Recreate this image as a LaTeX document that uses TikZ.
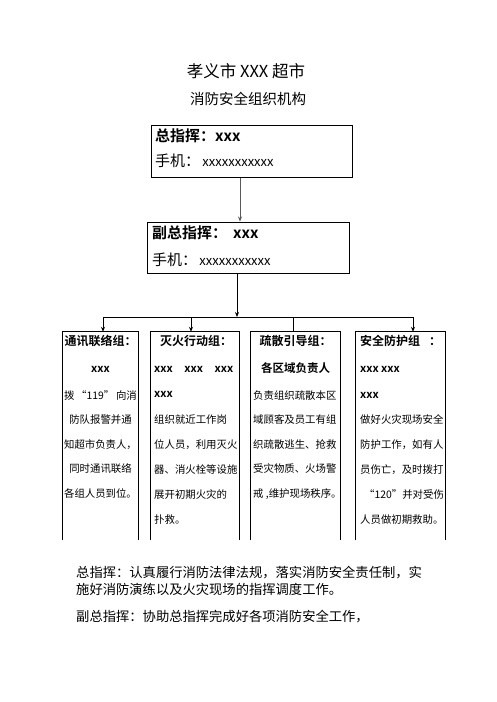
\documentclass[tikz,border=0pt]{standalone}
\usepackage{fontspec}
\setmainfont{Noto Sans CJK SC}[BoldFont={Noto Sans CJK SC Bold}]
\usetikzlibrary{arrows.meta}
\begin{document}
\begin{tikzpicture}[x=1pt,y=-1pt,
  ln/.style={inner sep=0pt, text height=.88em, text depth=.12em},
  bx/.style={draw=black, line width=1pt, inner sep=0pt},
  grp/.style={inner sep=0pt},
  side/.style={draw=black, line width=1pt},
  conn/.style={draw=black, line width=0.8pt},
  tip/.style={-{Stealth[length=5pt,width=4pt]}},
  fs/.style={font=\fontsize{#1}{#1}\selectfont}]
\fill[white] (0,0) rectangle (496,702);
\useasboundingbox (0,0) rectangle (496,702);

% titles
\node[ln,fs=16.5] (title) at (246,74) {孝义市 XXX 超市};
\node[ln,fs=14.5] (sub) at (248,101) {消防安全组织机构};

% top boxes
\node[bx, minimum width=201pt, minimum height=52pt] (b1) at (251.5,151) {};
\node[ln,fs=15,anchor=west] (b1a) at (155,138) {\textbf{总指挥：xxx}};
\node[ln,anchor=west] (b1b) at (155,163) {{\fontsize{15}{15}\selectfont 手机：}\ {\fontsize{13}{13}\selectfont xxxxxxxxxxx}};

\node[bx, minimum width=202pt, minimum height=51pt] (b2) at (248,247.5) {};
\node[ln,fs=15,anchor=west] (b2a) at (152,235) {\textbf{副总指挥：\hspace{6pt}xxx}};
\node[ln,anchor=west] (b2b) at (152,262) {{\fontsize{15}{15}\selectfont 手机：}\ {\fontsize{13}{13}\selectfont xxxxxxxxxxx}};

% group boxes (open at the bottom)
\node[grp, minimum width=75pt, minimum height=208pt] (gA) at (100.5,436) {};
\node[grp, minimum width=88pt, minimum height=208pt] (gB) at (195,436) {};
\node[grp, minimum width=89pt, minimum height=208pt] (gC) at (295.5,436) {};
\node[grp, minimum width=89pt, minimum height=208pt] (gD) at (400.5,436) {};
\foreach \g in {gA,gB,gC,gD}{
  \draw[side] (\g.south west) |- (\g.north east) -- (\g.south east);
}

% connectors
\coordinate (c1) at (240,0);
\draw[conn, draw=black!65, tip] (b1.south -| c1) -- (b2.north -| c1);
\coordinate (c2) at (237,317);
\draw[conn, tip] (b2.south -| c2) -- (c2);
\coordinate (dA) at (103,317);
\coordinate (dB) at (191,317);
\coordinate (dC) at (293,317);
\coordinate (dD) at (413,317);
\draw[conn] (dA) -- (dD);
\draw[conn, tip] (dA) -- (gA.north -| dA);
\draw[conn, tip] (dB) -- (gB.north -| dB);
\draw[conn] (dC) -- (gC.north -| dC);
\draw[conn, tip] (dD) -- (gD.north -| dD);

% box A
\node[ln,fs=12] (a1) at (100.5,342) {\textbf{通讯联络组：}};
\node[ln,fs=11] (a2) at (100.5,369) {\textbf{xxx}};
\node[ln,fs=10.4] (a3) at (100.5,396) {拨\,“119”\,向消};
\node[ln,fs=10.4] (a4) at (100.5,420) {防队报警并通};
\node[ln,fs=10.4] (a5) at (100.5,445) {知超市负责人，};
\node[ln,fs=10.4] (a6) at (100.5,469) {同时通讯联络};
\node[ln,fs=10.4] (a7) at (100.5,494) {各组人员到位。};

% box B
\node[ln,fs=12] (B1) at (196,342) {\textbf{灭火行动组：}};
\node[ln,fs=11,anchor=west] (B2) at (154,369) {\textbf{\makebox[79pt][s]{xxx\hfill xxx\hfill xxx}}};
\node[ln,fs=11,anchor=west] (B3) at (154,394) {\textbf{xxx}};
\node[ln,fs=10.4,anchor=west] (B4) at (154,420) {组织就近工作岗};
\node[ln,fs=10.4,anchor=west] (B5) at (154,445) {位人员，利用灭火};
\node[ln,fs=10.4,anchor=west] (B6) at (154,470) {器、消火栓等设施};
\node[ln,fs=10.4,anchor=west] (B7) at (154,495) {展开初期火灾的};
\node[ln,fs=10.4,anchor=west] (B8) at (154,520) {扑救。};

% box C
\node[ln,fs=12] (C1) at (295.5,342) {\textbf{疏散引导组：}};
\node[ln,fs=11.5] (C2) at (295.5,369) {\textbf{各区域负责人}};
\node[ln,fs=10.4,anchor=west] (C3) at (253,396) {负责组织疏散本区};
\node[ln,fs=10.4,anchor=west] (C4) at (253,420) {域顾客及员工有组};
\node[ln,fs=10.4,anchor=west] (C5) at (253,445) {织疏散逃生、抢救};
\node[ln,fs=10.4,anchor=west] (C6) at (253,469) {受灾物质、火场警};
\node[ln,fs=10.4,anchor=west] (C7) at (253,494) {戒 ,维护现场秩序。};

% box D
\node[ln,fs=12,anchor=west] (D1) at (360,342) {\textbf{安全防护组\hspace{9pt}：}};
\node[ln,fs=11,anchor=west] (D2) at (360,369) {\textbf{xxx xxx}};
\node[ln,fs=11,anchor=west] (D3) at (360,395) {\textbf{xxx}};
\node[ln,fs=10.4,anchor=west] (D4) at (360,420) {做好火灾现场安全};
\node[ln,fs=10.4,anchor=west] (D5) at (360,445) {防护工作，如有人};
\node[ln,fs=10.4,anchor=west] (D6) at (360,470) {员伤亡，及时拨打};
\node[ln,fs=10.4,anchor=west] (D7) at (364,495) {“120”并对受伤};
\node[ln,fs=10.4,anchor=west] (D8) at (360,520) {人员做初期救助。};

% bottom text
\node[ln,fs=13.3,anchor=west] (t1) at (76,574) {总指挥：认真履行消防法律法规，落实消防安全责任制，实};
\node[ln,fs=13.3,anchor=west] (t2) at (76,591) {施好消防演练以及火灾现场的指挥调度工作。};
\node[ln,fs=13.3,anchor=west] (t3) at (76,618) {副总指挥：协助总指挥完成好各项消防安全工作，};
\end{tikzpicture}
\end{document}
